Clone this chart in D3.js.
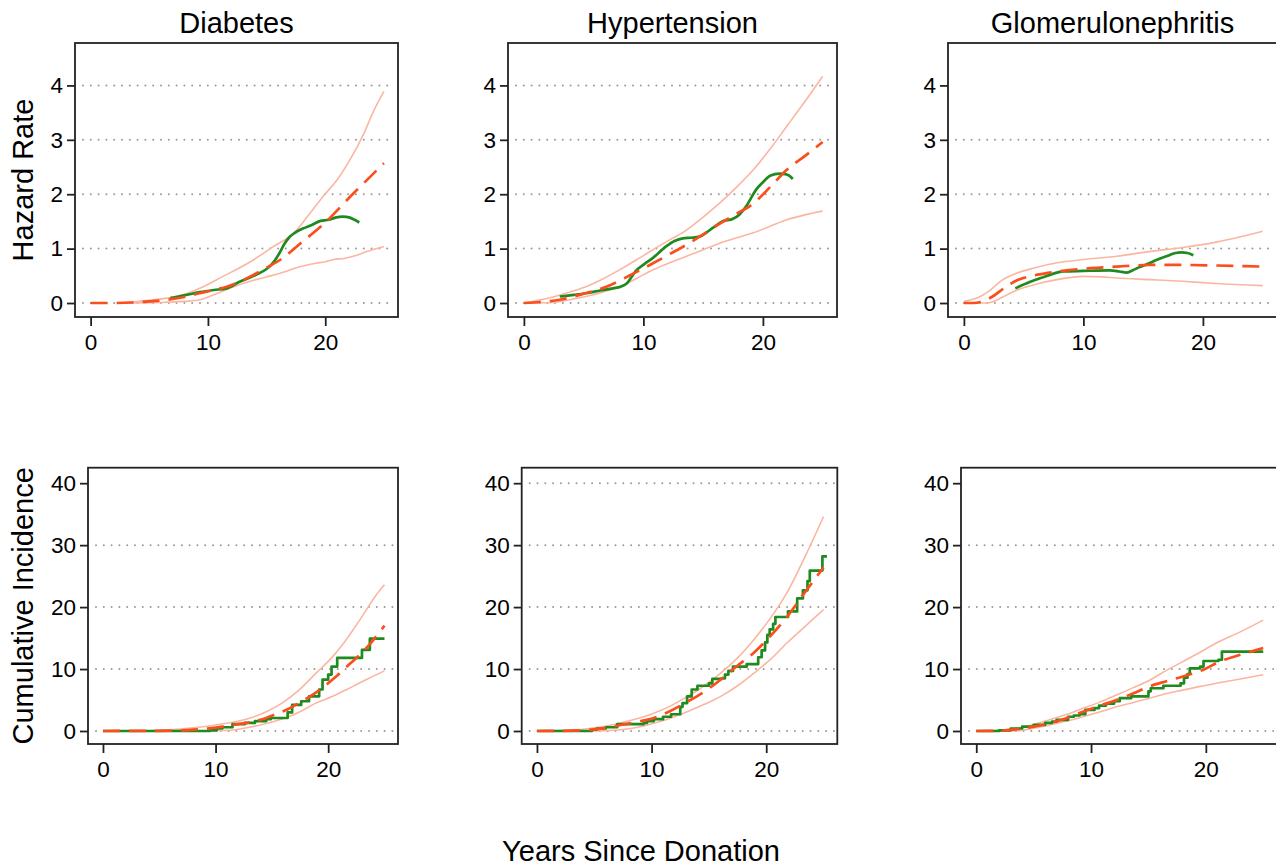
<!DOCTYPE html>
<html><head><meta charset="utf-8">
<script src="https://cdn.jsdelivr.net/npm/d3@7"></script>
<style>
html,body{margin:0;padding:0;background:#fff;}
svg{display:block;font-family:"Liberation Sans",Arial,Helvetica,sans-serif;}
</style></head>
<body>
<svg id="chart" width="1276" height="866"></svg>
<script>
// ---------- DATA ----------
const titles = ["Diabetes", "Hypertension", "Glomerulonephritis"];
const xTicks = [0, 10, 20];
const hazardTicks = [0, 1, 2, 3, 4];
const cumTicks = [0, 10, 20, 30, 40];
const yTitles = ["Hazard Rate", "Cumulative Incidence"];

// Hazard rate: [years, value]
const diabHazFit = [[0,0],[2,0],[3.6,0.01],[5,0.03],[6.5,0.06],[8,0.11],[9.3,0.18],[10.5,0.24],[11.6,0.3],[12.8,0.4],[13.9,0.52],[15,0.65],[16.2,0.8],[17.9,1.1],[20,1.48],[22.1,1.95],[23.5,2.25],[25,2.57]];
const diabHazLo  = [[2.5,0],[6,0.01],[8,0.03],[9.3,0.06],[10.8,0.18],[12.2,0.3],[13.6,0.4],[15,0.48],[16.5,0.57],[17.9,0.67],[19.2,0.73],[20,0.76],[20.7,0.8],[21.6,0.82],[22.4,0.86],[23.6,0.95],[25,1.04]];
const diabHazHi  = [[2.5,0],[4.5,0.04],[6.5,0.09],[8,0.16],[9.3,0.27],[11.2,0.48],[13.4,0.73],[15.6,1.04],[17.3,1.28],[18.7,1.65],[19.9,1.98],[21,2.26],[22.1,2.63],[23.3,3.12],[24.1,3.52],[25,3.89]];
const diabHazObs = [[6.8,0.09],[8,0.14],[9.3,0.2],[10.5,0.24],[11.6,0.27],[12.7,0.39],[13.6,0.47],[14.4,0.55],[15.2,0.66],[15.7,0.78],[16.1,0.92],[16.5,1.08],[16.9,1.2],[17.4,1.29],[18.1,1.37],[18.7,1.42],[19.6,1.51],[20.3,1.53],[20.85,1.57],[21.5,1.59],[22.1,1.57],[22.5,1.53],[22.9,1.48]];

const hyperHazFit = [[0,0],[1.5,0.02],[3,0.06],[5,0.17],[6.9,0.3],[8.8,0.5],[10.8,0.73],[12.2,0.9],[13.6,1.07],[15,1.26],[16.4,1.46],[17.8,1.64],[19.2,1.83],[20.6,2.13],[22,2.45],[23.5,2.7],[25,2.96]];
const hyperHazLo  = [[0,0],[2.45,0.01],[3.8,0.06],[5.2,0.12],[6.6,0.2],[8,0.3],[9.4,0.45],[10.8,0.61],[12.2,0.74],[13.6,0.86],[15,0.98],[16.4,1.1],[17.8,1.2],[19.2,1.29],[20.6,1.41],[22,1.53],[23.5,1.62],[25,1.69]];
const hyperHazHi  = [[0,0],[1.2,0.05],[2.45,0.11],[3.8,0.2],[5.2,0.3],[6.6,0.44],[8,0.61],[9.4,0.79],[10.8,0.98],[12.2,1.16],[13.6,1.34],[15,1.58],[16.4,1.84],[17.8,2.13],[19.2,2.45],[20.6,2.83],[22,3.25],[23.5,3.7],[25,4.17]];
const hyperHazObs = [[3,0.12],[4.2,0.15],[5.2,0.18],[6.4,0.23],[7.46,0.27],[8.1,0.3],[8.6,0.36],[9.4,0.6],[10.1,0.72],[10.8,0.83],[11.9,1.04],[12.6,1.14],[13.3,1.19],[14,1.2],[14.7,1.22],[15.3,1.3],[15.8,1.38],[16.6,1.5],[17.5,1.55],[18,1.62],[18.6,1.78],[19.45,2.09],[20,2.22],[20.6,2.34],[21.4,2.38],[21.9,2.37],[22.2,2.34],[22.5,2.28]];

const gnHazFit = [[0,0],[0.8,0.0],[1.4,0.02],[2.4,0.12],[3.4,0.28],[4.45,0.42],[5.5,0.49],[6.7,0.54],[8.6,0.6],[10.6,0.64],[12.8,0.67],[15.6,0.7],[18.3,0.7],[21.1,0.69],[25,0.67]];
const gnHazLo  = [[0,0],[1.9,0],[2.8,0.06],[3.6,0.15],[4.45,0.24],[6.1,0.35],[7.8,0.43],[10,0.49],[11.5,0.48],[12.8,0.46],[15.6,0.43],[18.3,0.4],[21.1,0.36],[25,0.32]];
const gnHazHi  = [[0,0.03],[1.2,0.1],[2.1,0.22],[3.2,0.42],[4.45,0.55],[5.8,0.64],[7.8,0.74],[10,0.8],[12.8,0.86],[15.6,0.95],[18.3,1.02],[21.1,1.12],[25,1.32]];
const gnHazObs = [[4.3,0.27],[5.56,0.39],[6.7,0.48],[7.5,0.54],[8.3,0.58],[10,0.59],[12.2,0.6],[13,0.58],[13.6,0.56],[14.1,0.6],[14.7,0.66],[15.4,0.72],[16.1,0.79],[17.2,0.88],[17.7,0.92],[18.2,0.93],[18.7,0.92],[19.2,0.88]];

// Cumulative incidence (%): [years, value]
const diabCumFit = [[0,0],[4,0.02],[7,0.1],[8.5,0.27],[10,0.55],[11.5,0.97],[13,1.4],[14.5,2.1],[15.6,2.9],[16.5,3.6],[17.4,4.5],[18.5,5.7],[19.5,7.0],[20.7,8.8],[21.9,10.8],[23.3,13.2],[25,17.0]];
const diabCumLo  = [[0,0],[8,0],[10,0.05],[11.5,0.16],[13,0.6],[14.5,1.2],[15.5,1.7],[16.5,2.3],[17.7,3.3],[18.9,4.5],[20.4,5.6],[21.3,6.4],[22.2,7.2],[23.5,8.4],[25,9.7]];
const diabCumHi  = [[0,0],[4,0.05],[5.6,0.16],[8,0.5],[10,0.97],[11.5,1.4],[13,2.05],[14.5,3.1],[15.9,4.5],[17.4,6.6],[18.9,9.3],[20.4,12.0],[21.3,14.0],[22.2,16.3],[23.3,19.3],[24.2,21.8],[25,23.6]];
const diabCumObs = [[0,0],[9.5,0.1],[10.1,0.4],[10.6,0.6],[11.5,1.1],[12.6,1.3],[13.5,1.6],[14.5,1.9],[14.9,2.1],[16.4,3.0],[16.8,4.2],[17.6,4.8],[18.3,5.6],[19.2,6.7],[19.5,8.3],[20.0,9.1],[20.3,10.4],[20.8,11.8],[23.0,13.1],[23.7,14.9],[25.0,14.9]];

const hyperCumFit = [[0,0],[2,0.02],[4.4,0.16],[6,0.5],[7.3,0.97],[8.8,1.5],[10.2,2.1],[11.6,3.2],[13.1,4.7],[14.8,6.6],[16.1,8.4],[17.4,10.4],[18.9,12.6],[20.3,15.2],[21.8,18.4],[23.3,22.2],[25,26.4]];
const hyperCumLo  = [[0,0],[4,0.02],[6,0.06],[7.3,0.2],[8.8,0.6],[10.2,1.24],[11.7,2.1],[13.1,3.1],[14.6,4.3],[16,5.55],[17.5,7.3],[18.9,9.3],[20.4,11.6],[21.8,14.2],[23.4,16.9],[25,19.6]];
const hyperCumHi  = [[0,0],[2.5,0.1],[4.4,0.35],[5.8,0.7],[7.3,1.3],[8.8,2.0],[10.2,2.86],[11.7,4.1],[13.1,5.55],[14.6,7.3],[16,9.3],[17.5,11.8],[18.9,14.7],[20.4,18.3],[21.8,22.3],[23.5,28.6],[25,34.6]];
const hyperCumObs = [[0,0],[4.8,0.2],[5.2,0.4],[6,0.6],[7,1.1],[9.3,1.3],[9.6,1.6],[10.2,1.9],[11,2.3],[11.7,2.7],[12.3,2.7],[12.5,3.9],[12.7,4.5],[13.1,5.6],[13.5,6.7],[14,7.3],[15,7.7],[15.3,8.4],[16.1,8.5],[16.4,9.1],[16.7,9.7],[17.1,10.4],[18.3,10.8],[19.3,11.9],[19.6,13.0],[19.9,14.3],[20.1,15.5],[20.3,16.4],[20.6,17.3],[20.8,18.4],[21.9,19.3],[22.7,21.4],[23.2,22.7],[23.6,24.2],[23.8,25.9],[24.9,28.2],[25.3,28.2]];

const gnCumFit = [[0,0],[1.5,0.02],[2.5,0.1],[3.5,0.27],[5,0.7],[6.4,1.24],[7.9,2.1],[9.3,3.1],[10.8,4.1],[12.2,5.0],[13.7,6.1],[15.1,7.2],[16.5,8.0],[18,8.8],[19.8,9.9],[21.2,11.2],[23,12.3],[25,13.4]];
const gnCumLo  = [[0,0],[2,0],[3.5,0.05],[5,0.45],[6.4,0.97],[7.9,1.6],[9.3,2.3],[10.8,3.1],[12.2,3.9],[13.7,4.6],[15.1,5.3],[16.5,6.0],[18,6.6],[19.5,7.2],[20.9,7.7],[23,8.4],[25,9.1]];
const gnCumHi  = [[0,0],[2,0.1],[3.5,0.43],[5,1.05],[6.4,1.8],[7.9,2.7],[9.3,3.66],[10.8,4.7],[12.2,5.8],[13.7,7.0],[15.1,8.2],[16.5,9.7],[18,11.2],[19.5,12.7],[20.9,14.2],[23,16.0],[25,17.9]];
const gnCumObs = [[0,0],[1.7,0.0],[2,0.1],[3,0.4],[4,0.7],[5,1.0],[6,1.3],[6.6,1.5],[7,1.8],[8,2.3],[8.5,2.5],[9,2.7],[9.5,3.4],[10.3,3.7],[10.7,4.1],[11.3,4.4],[12,4.8],[12.5,5.3],[13.5,5.6],[15,6.4],[15.2,6.9],[16.3,7.3],[17.8,7.7],[18.1,8.6],[18.4,9.2],[18.6,10.1],[19.5,10.4],[19.8,11.3],[21.1,11.5],[21.4,12.8],[25,12.8]];

// gridline values drawn in each panel
const gridTop = [[0,1,2,3,4],[0,1,2,3,4],[0,1,2,3]];
const gridBottom = [[0,10,20,30],[0,10,20,30,40],[0,10,20,30]];

// ---------- LAYOUT ----------
const colors = {obs:"#1f8a1f", fit:"#fa4f1c", ci:"#fbb6a2", frame:"#222", grid:"#9a9a9a", text:"#000"};
const FONT = "'Liberation Sans', Arial, Helvetica, sans-serif";
const svg = d3.select("#chart");
const xDomain = [-1.33, 26.2];
const rows = [
  {y0:43, y1:317, domain:[-0.257,4.78], ticks:hazardTicks, grids:gridTop,
   frames:[[75,398],[508,837],[948,1277]],
   series:[[diabHazLo,diabHazHi,diabHazFit,diabHazObs],[hyperHazLo,hyperHazHi,hyperHazFit,hyperHazObs],[gnHazLo,gnHazHi,gnHazFit,gnHazObs]],
   step:false},
  {y0:467.7, y1:744, domain:[-2.1,42.5], ticks:cumTicks, grids:gridBottom,
   frames:[[88,398],[521.7,837.3],[961,1277]],
   series:[[diabCumLo,diabCumHi,diabCumFit,diabCumObs],[hyperCumLo,hyperCumHi,hyperCumFit,hyperCumObs],[gnCumLo,gnCumHi,gnCumFit,gnCumObs]],
   step:true}
];

rows.forEach((row, ri) => {
  const y = d3.scaleLinear().domain(row.domain).range([row.y1, row.y0]);
  row.frames.forEach((fr, ci) => {
    const x = d3.scaleLinear().domain(xDomain).range(fr);
    const g = svg.append("g");
    const clipId = `clip${ri}${ci}`;
    g.append("clipPath").attr("id", clipId).append("rect")
      .attr("x", fr[0]).attr("y", row.y0).attr("width", fr[1]-fr[0]).attr("height", row.y1-row.y0);

    // gridlines (dotted)
    g.selectAll(".grid").data(row.grids[ci]).join("line")
      .attr("x1", fr[0]+8).attr("x2", fr[1]-3)
      .attr("y1", d => y(d)).attr("y2", d => y(d))
      .attr("stroke", colors.grid).attr("stroke-width", 2)
      .attr("stroke-linecap", "round").attr("stroke-dasharray", "0,7.8");

    const plot = g.append("g").attr("clip-path", `url(#${clipId})`);
    const smooth = d3.line().x(d => x(d[0])).y(d => y(d[1])).curve(d3.curveMonotoneX);
    const stepL = d3.line().x(d => x(d[0])).y(d => y(d[1])).curve(d3.curveStepAfter);
    const [lo, hi, fit, obs] = row.series[ci];
    [lo, hi].forEach(s => plot.append("path").attr("d", smooth(s))
      .attr("fill","none").attr("stroke", colors.ci).attr("stroke-width", 1.6));
    plot.append("path").attr("d", (row.step ? stepL : smooth)(obs))
      .attr("fill","none").attr("stroke", colors.obs).attr("stroke-width", 2.7)
      .attr("stroke-linejoin","round");
    plot.append("path").attr("d", smooth(fit))
      .attr("fill","none").attr("stroke", colors.fit).attr("stroke-width", 2.7)
      .attr("stroke-dasharray", "17,9");

    // frame
    g.append("rect").attr("x", fr[0]).attr("y", row.y0)
      .attr("width", fr[1]-fr[0]).attr("height", row.y1-row.y0)
      .attr("fill","none").attr("stroke", colors.frame).attr("stroke-width", 1.8);

    // y axis
    const yAx = g.append("g").attr("transform", `translate(${fr[0]},0)`)
      .call(d3.axisLeft(y).tickValues(row.ticks).tickSize(8).tickPadding(4).tickFormat(d3.format("d")));
    yAx.select(".domain").remove();
    yAx.selectAll("line").attr("stroke", colors.frame).attr("stroke-width", 1.8);
    yAx.selectAll("text").attr("font-size", 22.5).attr("fill", colors.text).attr("font-family", FONT);

    // x axis
    const xAx = g.append("g").attr("transform", `translate(0,${row.y1})`)
      .call(d3.axisBottom(x).tickValues(xTicks).tickSize(9).tickPadding(8).tickFormat(d3.format("d")));
    xAx.select(".domain").remove();
    xAx.selectAll("line").attr("stroke", colors.frame).attr("stroke-width", 1.8);
    xAx.selectAll("text").attr("font-size", 22.5).attr("fill", colors.text).attr("font-family", FONT);

    if (ri === 0) {
      svg.append("text").attr("x", (fr[0]+fr[1])/2).attr("y", 33)
        .attr("text-anchor","middle").attr("font-size", 29).attr("fill", colors.text)
        .text(titles[ci]);
    }
    if (ci === 0) {
      svg.append("text")
        .attr("transform", `translate(33,${(row.y0+row.y1)/2}) rotate(-90)`)
        .attr("text-anchor","middle").attr("font-size", 29).attr("fill", colors.text)
        .text(yTitles[ri]);
    }
  });
});

svg.append("text").attr("x", 641).attr("y", 861).attr("text-anchor","middle")
  .attr("font-size", 29).attr("fill", colors.text).text("Years Since Donation");
</script>
</body></html>
